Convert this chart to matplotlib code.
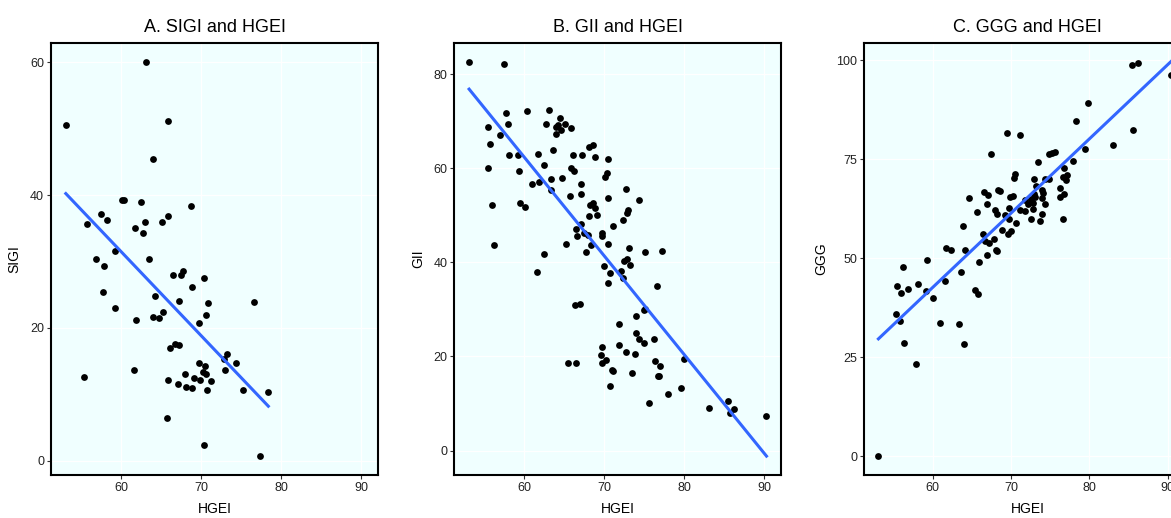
import matplotlib.pyplot as plt
import numpy as np

plt.rcParams['font.family'] = ['Liberation Sans', 'DejaVu Sans']

# A. SIGI vs HGEI
hgei_a = [63.1, 53.1, 65.9, 64.0, 60.1, 60.4, 62.5, 68.7, 57.5, 58.3, 55.75, 65.9, 65.1, 63.0,
          61.75, 62.7, 59.3, 56.9, 63.5, 57.9, 57.75, 59.3, 61.9, 66.5, 67.5, 67.8, 70.4, 68.9,
          64.25, 67.3, 70.9, 76.6, 64.0, 64.7, 65.25, 70.6, 69.8, 66.1, 66.7, 67.2, 55.4, 61.6,
          69.75, 70.5, 70.2, 70.6, 68.0, 69.1, 69.9, 71.2, 65.9, 67.1, 68.1, 68.9, 70.75, 73.25,
          72.8, 74.4, 73.0, 75.2, 78.4, 65.75, 70.4, 77.3]
sigi = [60.0, 50.5, 51.2, 45.5, 39.2, 39.3, 39.0, 38.3, 37.1, 36.2, 35.7, 36.9, 36.0, 36.0,
        35.1, 34.3, 31.6, 30.4, 30.4, 29.3, 25.4, 23.0, 21.2, 27.9, 28.0, 28.5, 27.5, 26.2,
        24.8, 24.0, 23.8, 23.9, 21.7, 21.5, 22.4, 22.0, 20.75, 16.9, 17.6, 17.4, 12.6, 13.6,
        14.7, 14.2, 13.3, 13.1, 13.1, 12.5, 12.2, 12.0, 12.2, 11.5, 11.1, 10.9, 10.7, 16.0,
        15.3, 14.7, 13.6, 10.6, 10.3, 6.5, 2.3, 0.7]

# B. GII vs HGEI
hgei_b = [53.1, 57.5, 57.75, 60.3, 63.1, 64.4, 65.1, 65.8, 64.0, 64.25, 64.6, 64.0, 62.7, 55.4,
          57.9, 56.9, 55.75, 58.1, 59.25, 61.7, 63.55, 68.05, 68.6, 66.1, 67.2, 68.8, 70.5, 55.5,
          59.3, 62.4, 65.8, 66.25, 70.3, 70.1, 63.3, 64.7, 60.9, 61.8, 67.1, 63.3, 65.7, 67.05,
          72.75, 70.5, 74.3, 56.0, 59.5, 60.1, 68.2, 68.55, 68.8, 69.1, 68.1, 73.0, 72.8, 72.3,
          71.1, 67.1, 66.5, 66.6, 67.4, 67.9, 69.7, 69.7, 65.2, 68.3, 70.4, 56.2, 62.5, 67.75,
          73.1, 75.1, 77.25, 72.5, 72.8, 73.25, 61.55, 69.9, 70.7, 72.1, 72.3, 70.5, 76.6, 66.3,
          66.9, 74.9, 75.1, 74.0, 71.8, 74.0, 74.3, 74.9, 76.25, 69.7, 69.55, 71.8, 72.7, 73.8,
          79.9, 65.4, 66.5, 69.75, 70.2, 76.3, 77.0, 70.9, 71.1, 73.4, 76.7, 76.8, 70.7, 79.6,
          78.0, 75.6, 83.1, 85.5, 86.25, 85.7, 90.25]
gii = [82.5, 82.2, 71.8, 72.2, 72.3, 70.7, 69.4, 68.6, 68.8, 69.2, 68.2, 67.3, 69.3, 68.8,
       69.3, 67.0, 65.1, 62.8, 62.9, 63.1, 63.9, 64.5, 65.0, 62.7, 62.8, 62.4, 61.9, 60.0,
       59.4, 60.7, 60.1, 59.4, 58.9, 58.1, 57.8, 58.0, 56.7, 57.0, 56.6, 55.4, 54.1, 54.6,
       55.5, 53.6, 53.2, 52.1, 52.5, 51.8, 52.2, 52.5, 51.5, 50.1, 49.9, 51.1, 50.5, 49.0,
       47.7, 48.2, 47.0, 45.5, 46.2, 45.7, 46.2, 45.5, 43.9, 43.7, 43.8, 43.6, 41.7, 42.1,
       43.0, 42.1, 42.4, 40.3, 40.6, 39.4, 38.0, 39.2, 37.7, 38.2, 36.7, 35.6, 35.0, 30.9,
       31.1, 29.9, 30.0, 28.6, 26.9, 25.0, 23.8, 22.9, 23.8, 22.0, 20.4, 22.4, 20.9, 20.6,
       19.5, 18.7, 18.7, 18.6, 19.3, 19.0, 17.9, 17.1, 17.0, 16.4, 15.9, 15.9, 13.7, 13.2,
       12.0, 10.1, 9.1, 10.6, 8.9, 8.0, 7.3]

# C. GGG vs HGEI
hgei_c = [85.4, 86.2, 90.4, 79.85, 85.6, 78.3, 69.5, 71.1, 67.4, 83.0, 79.5, 74.8, 75.2, 75.6,
          73.4, 77.9, 76.8, 76.6, 77.2, 77.0, 70.5, 70.4, 73.0, 74.3, 74.8, 73.2, 73.9, 76.2,
          76.3, 76.8, 66.6, 67.1, 68.3, 68.6, 69.9, 70.2, 64.7, 67.0, 69.7, 71.8, 72.2, 72.6,
          72.8, 73.1, 73.9, 74.3, 71.1, 71.8, 72.85, 65.7, 68.0, 68.2, 69.2, 69.7, 70.6, 72.5,
          73.7, 73.9, 76.6, 63.9, 66.4, 68.8, 70.05, 69.6, 67.8, 67.2, 66.65, 61.7, 62.4, 64.2,
          68.1, 66.9, 68.2, 65.9, 59.3, 56.2, 63.6, 61.6, 55.5, 58.1, 56.9, 56.0, 59.2, 65.4,
          65.85, 60.1, 55.4, 55.8, 60.9, 63.35, 56.35, 64.0, 57.9, 53.1, 73.0, 74.1]
ggg = [98.8, 99.4, 96.4, 89.3, 82.4, 84.6, 81.6, 81.1, 76.3, 78.6, 77.5, 76.3, 76.7, 76.9,
       74.3, 74.6, 72.9, 70.6, 71.0, 69.8, 71.2, 70.2, 69.9, 70.1, 69.9, 68.3, 67.2, 67.8,
       65.5, 66.2, 66.8, 65.9, 67.2, 67.1, 65.5, 65.7, 65.3, 63.6, 62.8, 64.7, 63.7, 64.9,
       63.9, 65.4, 65.2, 63.6, 62.3, 61.9, 62.4, 61.7, 62.2, 61.3, 61.0, 59.8, 59.0, 59.9,
       59.5, 61.1, 59.8, 58.2, 56.2, 57.1, 56.9, 56.0, 54.85, 53.8, 54.4, 52.6, 52.2, 52.2,
       52.1, 50.7, 51.7, 49.1, 49.6, 47.7, 46.4, 44.3, 43.0, 43.4, 42.1, 41.2, 41.8, 42.0,
       41.0, 39.9, 36.0, 34.1, 33.6, 33.3, 28.5, 28.2, 23.2, 0.0, 66.3, 66.6]

panels = [
    ('A. SIGI and HGEI', 'SIGI', hgei_a, sigi, [0, 20, 40, 60], (51.25, 92.1), (-2.15, 62.9)),
    ('B. GII and HGEI', 'GII', hgei_b, gii, [0, 20, 40, 60, 80], (51.25, 92.1), (-5.2, 86.6)),
    ('C. GGG and HGEI', 'GGG', hgei_c, ggg, [0, 25, 50, 75, 100], (51.3, 93.0), (-4.8, 104.4)),
]
lefts = [51, 454.3, 864.3]

W, H = 1171, 518
fig = plt.figure(figsize=(W / 100, H / 100), dpi=100)

for (title, ylab, x, y, yt, xl, yl), left in zip(panels, lefts):
    ax = fig.add_axes([left / W, 43 / H, 327 / W, 432 / H])
    ax.set_facecolor('#F0FFFF')
    ax.grid(color='white', linewidth=0.9)
    ax.set_axisbelow(True)
    x = np.array(x)
    y = np.array(y)
    ax.scatter(x, y, s=24, color='black', zorder=3, linewidths=0)
    # least squares fit over the data range
    k, b = np.polyfit(x, y, 1)
    xs = np.array([x.min(), x.max()])
    ax.plot(xs, k * xs + b, color='#3366FF', linewidth=2.2, zorder=4)
    ax.set_xlim(xl)
    ax.set_ylim(yl)
    ax.set_xticks([60, 70, 80, 90])
    ax.set_yticks(yt)
    ax.tick_params(direction='out', length=3, width=0.8, color='#333333',
                   labelsize=9, labelcolor='#222222', pad=2)
    for s in ax.spines.values():
        s.set_color('black')
        s.set_linewidth(1.5)
    ax.set_title(title, fontsize=13, pad=8)
    ax.set_xlabel('HGEI', fontsize=10, labelpad=6)
    ax.set_ylabel(ylab, fontsize=10, labelpad=6)

plt.savefig('out.png', dpi=100)
